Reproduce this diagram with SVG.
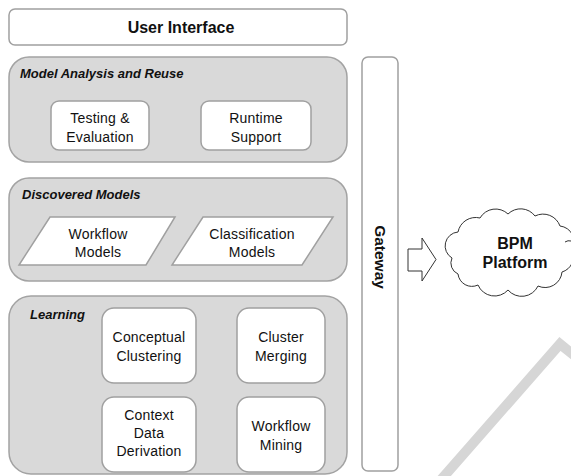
<svg xmlns="http://www.w3.org/2000/svg" width="571" height="476" viewBox="0 0 571 476">
<defs>
<style>
.grp{fill:#d9d9d9;stroke:#a3a3a3;stroke-width:1.5}
.box{fill:#fff;stroke:#a0a0a0;stroke-width:1.5}
.t{font-family:"Century Gothic","URW Gothic","Liberation Sans",sans-serif;font-size:14px;letter-spacing:0.2px;fill:#111;text-anchor:middle}
.ttl{font-family:"Century Gothic","Liberation Sans",sans-serif;font-size:13px;font-weight:bold;font-style:italic;fill:#111}
.b{font-family:"Liberation Sans",Arial,sans-serif;font-weight:bold;fill:#111;text-anchor:middle}
</style>
</defs>
<rect width="571" height="476" fill="#fff"/>
<polyline points="432,490 560,344 585,364" fill="none" stroke="#d6d6d6" stroke-width="10"/>
<g id="user-interface">
<rect class="box" x="9" y="9" width="338" height="36" rx="6"/>
<text class="b" x="181" y="33" font-size="16">User Interface</text>
</g>
<g id="model-analysis">
<rect class="grp" x="9" y="57" width="338" height="105" rx="20"/>
<text class="ttl" x="20" y="78">Model Analysis and Reuse</text>
</g>
<g id="testing">
<rect class="box" x="51" y="101" width="98" height="49" rx="8"/>
<text class="t" x="100" y="123">Testing &amp;</text>
<text class="t" x="100" y="142">Evaluation</text>
</g>
<g id="runtime">
<rect class="box" x="201" y="101" width="110" height="49" rx="8"/>
<text class="t" x="256" y="123">Runtime</text>
<text class="t" x="256" y="142">Support</text>
</g>
<g id="discovered-models">
<rect class="grp" x="9" y="178" width="338" height="103" rx="20"/>
<text class="ttl" x="22" y="199">Discovered Models</text>
</g>
<g id="workflow-models">
<polygon class="box" points="50,217 175,217 146,265 19,265"/>
<text class="t" x="98" y="239">Workflow</text>
<text class="t" x="98" y="257">Models</text>
</g>
<g id="classification-models">
<polygon class="box" points="203,217 333,217 302,265 172,265"/>
<text class="t" x="252" y="239">Classification</text>
<text class="t" x="252" y="257">Models</text>
</g>
<g id="learning">
<rect class="grp" x="9" y="296" width="338" height="178" rx="22"/>
<text class="ttl" x="30" y="319">Learning</text>
</g>
<g id="conceptual-clustering">
<rect class="box" x="102" y="308" width="94" height="75" rx="12"/>
<text class="t" x="149" y="342">Conceptual</text>
<text class="t" x="149" y="361">Clustering</text>
</g>
<g id="cluster-merging">
<rect class="box" x="237" y="308" width="88" height="75" rx="12"/>
<text class="t" x="281" y="342">Cluster</text>
<text class="t" x="281" y="361">Merging</text>
</g>
<g id="context-data">
<rect class="box" x="102" y="397" width="94" height="75" rx="12"/>
<text class="t" x="149" y="420">Context</text>
<text class="t" x="149" y="438">Data</text>
<text class="t" x="149" y="456">Derivation</text>
</g>
<g id="workflow-mining">
<rect class="box" x="237" y="397" width="88" height="75" rx="12"/>
<text class="t" x="281" y="431">Workflow</text>
<text class="t" x="281" y="450">Mining</text>
</g>
<g id="gateway">
<rect class="box" x="362" y="57" width="36" height="414" rx="6"/>
<text class="b" font-size="15.5" transform="translate(375,257) rotate(90)">Gateway</text>
</g>
<g id="connectors">
<polygon points="408,249 422,249 422,238 436,259.5 422,281 422,271 408,271" fill="#fff" stroke="#333" stroke-width="1"/>
</g>
<g id="bpm-platform">
<path d="M452,258 A14,14 0 0 1 458,232 A18,18 0 0 1 480,218 A18,18 0 0 1 508,214 A18,18 0 0 1 535,216 A18,18 0 0 1 560,226 A16,16 0 0 1 572,250 A16,16 0 0 1 562,272 A17,17 0 0 1 538,286 A18,18 0 0 1 508,290 A18,18 0 0 1 478,285 A14,14 0 0 1 458,274 A12,12 0 0 1 452,258 Z" fill="#fff" stroke="#333" stroke-width="1"/>
<path d="M565,242 Q568,240 571,241" fill="none" stroke="#333" stroke-width="1"/>
<text class="b" x="515" y="249" font-size="16">BPM</text>
<text class="b" x="515" y="268" font-size="16">Platform</text>
</g>
</svg>
